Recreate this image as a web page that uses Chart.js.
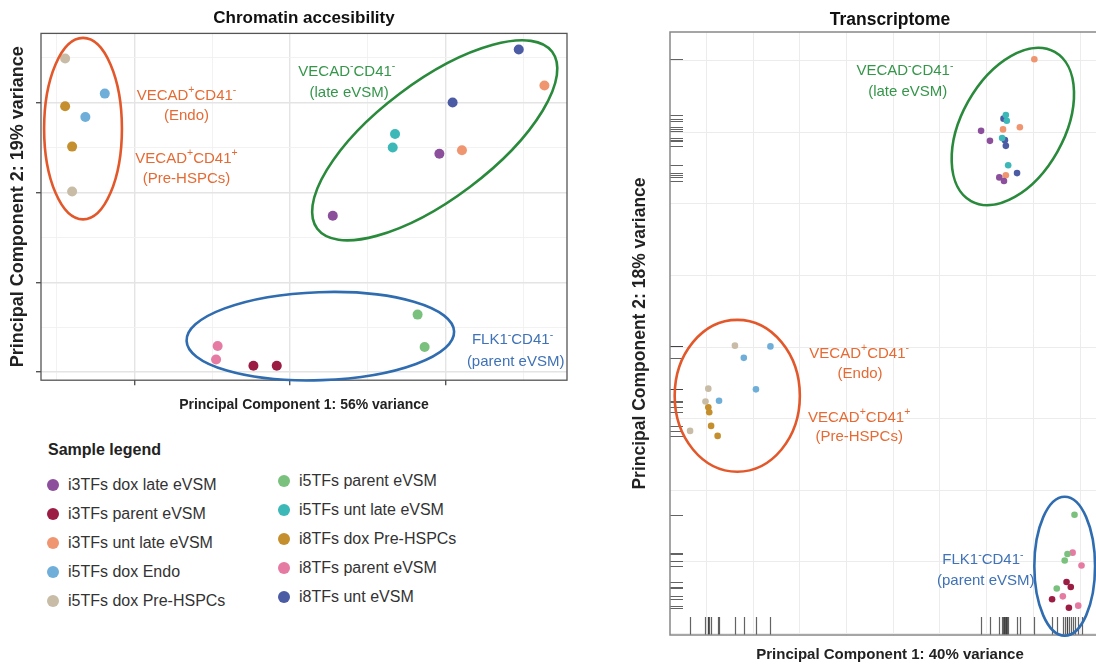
<!DOCTYPE html>
<html>
<head>
<meta charset="utf-8">
<script src="https://cdn.jsdelivr.net/npm/chart.js@4.4.0/dist/chart.umd.min.js"></script>
<style>
  html, body { margin: 0; padding: 0; background: #fff; }
  #wrap { position: relative; width: 1096px; height: 668px; overflow: hidden; font-family: "Liberation Sans", Arial, sans-serif; }
  canvas { position: absolute; top: 0; }
  #atac { left: 0; }
  #rna { left: 620px; }
  .legend-title { position: absolute; left: 48px; top: 441px; font-size: 16px; font-weight: bold; color: #222; }
  .legend-item { position: absolute; height: 20px; line-height: 20px; font-size: 16px; color: #333; white-space: nowrap; }
  .legend-item .dot { position: absolute; left: 0; top: 4px; width: 12px; height: 12px; border-radius: 50%; }
  .legend-item span { position: absolute; left: 21px; }
</style>
</head>
<body>
<div id="wrap">
  <canvas id="atac" width="600" height="420"></canvas>
  <canvas id="rna" width="500" height="668"></canvas>
  <div class="legend-title">Sample legend</div>
  <div id="legend"></div>
</div>
<script>
// sample groups (legend order)
const samples = [
  "i3TFs dox late eVSM", "i3TFs parent eVSM", "i3TFs unt late eVSM",
  "i5TFs dox Endo", "i5TFs dox Pre-HSPCs", "i5TFs parent eVSM",
  "i5TFs unt late eVSM", "i8TFs dox Pre-HSPCs", "i8TFs parent eVSM",
  "i8TFs unt eVSM"
];

// Chromatin accesibility PCA (2 replicates per sample)
const atacPC1 = [
  [19.2, 5.5], [-4.7, -1.7], [32.7, 22.1], [-23.8, -26.3], [-28.9, -28.0],
  [16.4, 17.3], [13.5, 13.2], [-28.9, -28.0], [-9.3, -9.5], [29.4, 20.9]
];
const atacPC2 = [
  [4.3, -2.6], [-19.3, -19.3], [11.9, 4.7], [11.0, 8.4], [14.9, 0.1],
  [-13.6, -17.2], [6.5, 5.0], [9.6, 5.1], [-17.1, -18.6], [15.9, 10.0]
];

// Transcriptome PCA (4 replicates per sample)
const rnaPC1 = [
  [18.8, 20.7, 22.7, 23.7], [37.1, 38.0, 34.0, 37.6], [23.5, 27.1, 24.1, 30.2],
  [-26.3, -32.0, -29.4, -37.3], [-33.9, -39.6, -40.2, -43.5], [38.8, 37.3, 36.7, 35.0],
  [24.1, 24.3, 23.3, 24.6], [-39.6, -39.4, -39.0, -37.6], [38.4, 40.3, 36.3, 39.6],
  [23.6, 23.9, 24.1, 26.5]
];
const rnaPC2 = [
  [30.2, 28.8, 23.7, 23.2], [-32.8, -33.5, -35.2, -36.4], [30.4, 30.7, 24.0, 40.2],
  [0.1, -1.5, -5.9, -7.5], [0.2, -5.8, -7.6, -11.7], [-23.4, -28.9, -29.8, -33.7],
  [32.4, 31.6, 29.2, 25.4], [-8.4, -9.1, -11.0, -12.4], [-28.7, -30.5, -34.8, -36.1],
  [31.9, 28.9, 28.1, 24.3]
];

const COLORS = [
  "#8c4f9b", "#9b1d44", "#ef9671", "#6eaed9", "#c9bca6",
  "#7bc17e", "#3db8b8", "#c58f2e", "#e57aa2", "#4b5ba4"
];
const ORANGE = "#e3582b", ORANGE_TXT = "#e66a33";
const GREEN = "#2a8a3c", GREEN_TXT = "#35964a";
const BLUE = "#2f6cb0", BLUE_TXT = "#3f72b6";
const FONT = "'Liberation Sans', Arial, sans-serif";

function buildDatasets(pc1, pc2, radius) {
  return samples.map((name, i) => ({
    label: name,
    data: pc1[i].map((x, j) => ({ x, y: pc2[i][j] })),
    backgroundColor: COLORS[i],
    borderWidth: 0,
    pointRadius: radius,
    pointHoverRadius: radius,
  }));
}

// text with ^x superscripts, centred on (x, y)
function drawRich(ctx, text, x, y, size, color) {
  const parts = [];
  let buf = "";
  for (let i = 0; i < text.length; i++) {
    if (text[i] === "^") {
      if (buf) parts.push({ t: buf, sup: false });
      buf = "";
      parts.push({ t: text[i + 1], sup: true });
      i++;
    } else buf += text[i];
  }
  if (buf) parts.push({ t: buf, sup: false });
  const supSize = size * 0.7;
  let total = 0;
  parts.forEach(p => {
    ctx.font = `${p.sup ? supSize : size}px ${FONT}`;
    p.w = ctx.measureText(p.t).width;
    total += p.w;
  });
  let cx = x - total / 2;
  const base = y + size * 0.36;
  ctx.fillStyle = color;
  ctx.textAlign = "left";
  ctx.textBaseline = "alphabetic";
  parts.forEach(p => {
    ctx.font = `${p.sup ? supSize : size}px ${FONT}`;
    ctx.fillText(p.t, cx, p.sup ? base - size * 0.45 : base);
    cx += p.w;
  });
}

// ellipses, group labels, frame and rug marks, all placed through the chart scales
function overlay(cfg) {
  return {
    id: "overlay",
    beforeDatasetsDraw(chart) {
      const { ctx, chartArea: a, scales: { x, y } } = chart;
      if (!cfg.rug) return;
      ctx.save();
      ctx.strokeStyle = "rgba(60,60,60,0.8)";
      ctx.lineWidth = 1.2;
      chart.data.datasets.forEach(ds => ds.data.forEach(p => {
        const px = Math.round(x.getPixelForValue(p.x)) + 0.5;
        const py = Math.round(y.getPixelForValue(p.y)) + 0.5;
        ctx.beginPath();
        ctx.moveTo(px, a.bottom); ctx.lineTo(px, a.bottom - 18);
        ctx.moveTo(a.left, py); ctx.lineTo(a.left + 13, py);
        ctx.stroke();
      }));
      ctx.restore();
    },
    afterDatasetsDraw(chart) {
      const { ctx, chartArea: a, scales: { x, y } } = chart;
      const sx = Math.abs(x.getPixelForValue(1) - x.getPixelForValue(0));
      const sy = Math.abs(y.getPixelForValue(1) - y.getPixelForValue(0));
      ctx.save();
      ctx.strokeStyle = cfg.frame;
      ctx.lineWidth = cfg.frameWidth;
      ctx.strokeRect(a.left, a.top, a.right - a.left, a.bottom - a.top);
      cfg.ellipses.forEach(e => {
        ctx.beginPath();
        ctx.ellipse(x.getPixelForValue(e.cx), y.getPixelForValue(e.cy),
          e.rx * sx, e.ry * sy, e.rot * Math.PI / 180, 0, Math.PI * 2);
        ctx.strokeStyle = e.color;
        ctx.lineWidth = 2.6;
        ctx.stroke();
      });
      cfg.labels.forEach(l => {
        drawRich(ctx, l.text, x.getPixelForValue(l.x), y.getPixelForValue(l.y), cfg.labelSize, l.color);
      });
      ctx.restore();
    }
  };
}

const isMajor = (v, step) => Math.abs(v % step) < 1e-6;

// ---------- Chromatin accesibility ----------
new Chart(document.getElementById("atac"), {
  type: "scatter",
  data: { datasets: buildDatasets(atacPC1, atacPC2, 5) },
  options: {
    responsive: false,
    animation: false,
    devicePixelRatio: 1,
    layout: { padding: { left: 0, right: 33, top: 0, bottom: 2 }, autoPadding: false },
    plugins: {
      legend: { display: false },
      tooltip: { enabled: false },
      title: {
        display: true, text: "Chromatin accesibility", color: "#111", fullSize: false,
        font: { family: FONT, size: 17, weight: "bold" },
        padding: { top: 8, bottom: 5 }
      }
    },
    scales: {
      x: {
        type: "linear", min: -32.0, max: 35.6,
        ticks: { display: false, stepSize: 10, includeBounds: false },
        grid: {
          color: c => isMajor(c.tick.value, 20) ? "#e4e4e4" : "#f0f0f0",
          lineWidth: c => isMajor(c.tick.value, 20) ? 1.4 : 0.9,
          tickColor: c => isMajor(c.tick.value, 20) ? "#555" : "rgba(0,0,0,0)",
          tickLength: 5
        },
        border: { display: false },
        title: {
          display: true, text: "Principal Component 1: 56% variance", color: "#222",
          font: { family: FONT, size: 14, weight: "bold" },
          padding: { top: 11.5, bottom: 4.5 }
        }
      },
      y: {
        type: "linear", min: -20.9, max: 17.7,
        ticks: { display: false, stepSize: 5, includeBounds: false },
        grid: {
          color: c => isMajor(c.tick.value, 10) ? "#e4e4e4" : "#f0f0f0",
          lineWidth: c => isMajor(c.tick.value, 10) ? 1.4 : 0.9,
          tickColor: c => isMajor(c.tick.value, 10) ? "#555" : "rgba(0,0,0,0)",
          tickLength: 5
        },
        border: { display: false },
        title: {
          display: true, text: "Principal Component 2: 19% variance", color: "#222",
          font: { family: FONT, size: 18, weight: "bold" },
          padding: { top: 7, bottom: 7.4 }
        }
      }
    }
  },
  plugins: [overlay({
    frame: "#555", frameWidth: 1.3, labelSize: 15, rug: false,
    ellipses: [
      { cx: -26.6, cy: 7.1, rx: 5.0, ry: 10.1, rot: 0, color: ORANGE },
      { cx: 18.6, cy: 5.8, rx: 18.9, ry: 6.5, rot: -37, color: GREEN },
      { cx: 3.9, cy: -16.0, rx: 17.2, ry: 4.9, rot: -2, color: BLUE }
    ],
    labels: [
      { text: "VECAD^+CD41^-", x: -13.3, y: 10.9, color: ORANGE_TXT },
      { text: "(Endo)", x: -13.3, y: 8.7, color: ORANGE_TXT },
      { text: "VECAD^+CD41^+", x: -13.3, y: 3.9, color: ORANGE_TXT },
      { text: "(Pre-HSPCs)", x: -13.3, y: 1.7, color: ORANGE_TXT },
      { text: "VECAD^-CD41^-", x: 7.3, y: 13.6, color: GREEN_TXT },
      { text: "(late eVSM)", x: 7.6, y: 11.2, color: GREEN_TXT },
      { text: "FLK1^-CD41^-", x: 28.6, y: -16.3, color: BLUE_TXT },
      { text: "(parent eVSM)", x: 29.0, y: -18.7, color: BLUE_TXT }
    ]
  })]
});

// ---------- Transcriptome ----------
new Chart(document.getElementById("rna"), {
  type: "scatter",
  data: { datasets: buildDatasets(rnaPC1, rnaPC2, 3.3) },
  options: {
    responsive: false,
    animation: false,
    devicePixelRatio: 1,
    layout: { padding: { left: 0, right: 10, top: 0, bottom: 0 }, autoPadding: false },
    plugins: {
      legend: { display: false },
      tooltip: { enabled: false },
      title: {
        display: true, text: "Transcriptome", color: "#111", fullSize: false,
        font: { family: FONT, size: 17.5, weight: "bold" },
        padding: { top: 9.5, bottom: 1.5 }
      }
    },
    scales: {
      x: {
        type: "linear", min: -47.8, max: 46.4,
        ticks: { display: false, stepSize: 10, includeBounds: false },
        grid: { color: "#ececec", lineWidth: 1, drawTicks: false },
        border: { display: false },
        title: {
          display: true, text: "Principal Component 1: 40% variance", color: "#222",
          font: { family: FONT, size: 15, weight: "bold" },
          padding: { top: 11, bottom: 4 }
        }
      },
      y: {
        type: "linear", min: -40.2, max: 44.0,
        ticks: { display: false, stepSize: 10, includeBounds: false },
        grid: { color: "#ececec", lineWidth: 1, drawTicks: false },
        border: { display: false },
        title: {
          display: true, text: "Principal Component 2: 18% variance", color: "#222",
          font: { family: FONT, size: 17.5, weight: "bold" },
          padding: { top: 9.5, bottom: 19.5 }
        }
      }
    }
  },
  plugins: [overlay({
    frame: "#888", frameWidth: 1.5, labelSize: 15, rug: true,
    ellipses: [
      { cx: 25.6, cy: 30.8, rx: 18.3, ry: 7.15, rot: -60.7, color: GREEN },
      { cx: -33.4, cy: -6.8, rx: 13.4, ry: 10.6, rot: 0, color: ORANGE },
      { cx: 36.7, cy: -30.6, rx: 6.5, ry: 9.7, rot: 0, color: BLUE }
    ],
    labels: [
      { text: "VECAD^-CD41^-", x: 2.5, y: 38.7, color: GREEN_TXT },
      { text: "(late eVSM)", x: 3.1, y: 35.8, color: GREEN_TXT },
      { text: "VECAD^+CD41^-", x: -7.3, y: -0.8, color: ORANGE_TXT },
      { text: "(Endo)", x: -7.1, y: -3.6, color: ORANGE_TXT },
      { text: "VECAD^+CD41^+", x: -7.3, y: -9.7, color: ORANGE_TXT },
      { text: "(Pre-HSPCs)", x: -7.3, y: -12.4, color: ORANGE_TXT },
      { text: "FLK1^-CD41^-", x: 19.2, y: -29.6, color: BLUE_TXT },
      { text: "(parent eVSM)", x: 19.8, y: -32.5, color: BLUE_TXT }
    ]
  })]
});

// ---------- shared sample legend ----------
const legendEl = document.getElementById("legend");
const legendCols = [
  { left: 47, top: 475, step: 28.9 },
  { left: 278, top: 471, step: 28.9 }
];
samples.forEach((name, i) => {
  const col = legendCols[Math.floor(i / 5)];
  const row = i % 5;
  const item = document.createElement("div");
  item.className = "legend-item";
  item.style.left = col.left + "px";
  item.style.top = (col.top + row * col.step) + "px";
  item.innerHTML = `<div class="dot" style="background:${COLORS[i]}"></div><span>${name}</span>`;
  legendEl.appendChild(item);
});
</script>
</body>
</html>
